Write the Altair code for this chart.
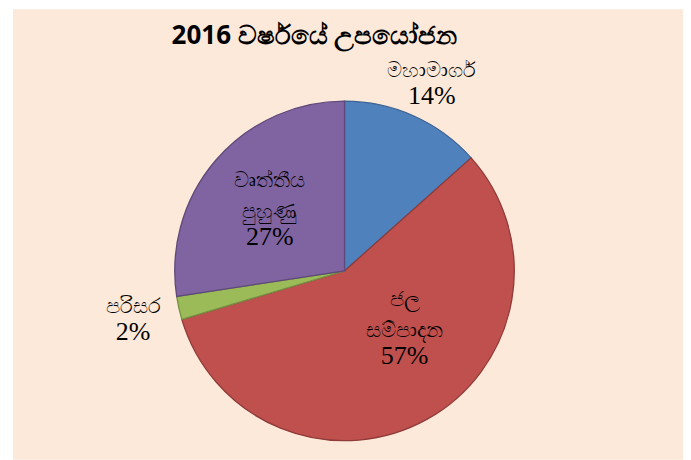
import altair as alt
import pandas as pd

# data
categories = ["මහාමාර්ග", "ජල\nසම්පාදන", "පරිසර", "වෘත්තීය\nපුහුණු"]
shares = [13.4, 57.0, 2.2, 27.4]
pct_labels = ["14%", "57%", "2%", "27%"]
fill_colors = ["#4F81BD", "#C0504D", "#9BBB59", "#8064A2"]
edge_colors = ["#3C6494", "#8E3B39", "#769043", "#5E4A7A"]
title_text = "2016 වර්ෂයේ උපයෝජන"

df = pd.DataFrame({
    "i": list(range(len(categories))),
    "cat": categories,
    "share": shares,
    "pct": pct_labels,
})

CX, CY = 332, 262  # pie centre inside the view
R = 170

base = alt.Chart(df).transform_window(
    end="sum(share)", sort=[alt.SortField("i")], frame=[None, 0]
).transform_calculate(
    start="datum.end - datum.share",
    mid="datum.end - datum.share/2",
)

theta_scale = alt.Scale(domain=[0, 100])

arcs = base.mark_arc(outerRadius=R, strokeWidth=1.3, x=CX, y=CY).encode(
    theta=alt.Theta("start:Q", scale=theta_scale, stack=None),
    theta2="end:Q",
    fill=alt.Fill("cat:N", scale=alt.Scale(domain=categories, range=fill_colors), legend=None),
    stroke=alt.Stroke("cat:N", scale=alt.Scale(domain=categories, range=edge_colors), legend=None),
)

# label anchor placement (angle nudge in % of the circle, radius in px)
lab = base.transform_calculate(
    la="datum.mid + [0.2, -3.1, 0, -2.2][datum.i]",
    lr="[208, 93, 217, 89][datum.i]",
    parts="split(datum.cat, '\\n')",
).transform_calculate(
    last_line="datum.parts[length(datum.parts) - 1]",
    first_line="length(datum.parts) > 1 ? datum.parts[0] : ''",
)

def text_layer(field, font, size, baseline, dy):
    return lab.mark_text(
        x=CX, y=CY, font=font, fontSize=size, baseline=baseline,
        align="center", color="black", dy=dy,
    ).encode(
        theta=alt.Theta("la:Q", scale=theta_scale, stack=None),
        radius=alt.Radius("lr:Q", scale=None),
        text=alt.Text(f"{field}:N"),
    )

names_last = text_layer("last_line", "Noto Sans", 21, "bottom", -1)
names_first = text_layer("first_line", "Noto Sans", 21, "bottom", -32)
pcts = text_layer("pct", "Liberation Serif", 26, "top", 1)

title = alt.Chart(pd.DataFrame({"t": [title_text]})).mark_text(
    font="Noto Sans", fontSize=26, fontWeight="bold", align="center",
    baseline="middle", color="black",
).encode(x=alt.value(302), y=alt.value(27), text="t:N")

chart = alt.layer(arcs, names_last, names_first, pcts, title).properties(
    width=676, height=452,
    padding={"left": 5, "top": 1, "right": 0, "bottom": 0},
    autosize=alt.AutoSizeParams(type="fit", contains="padding"),
    background="white",
).configure_view(fill="#FDE9D9", stroke=None)

chart.save("out.html", embed_options={"renderer": "svg", "actions": False})
